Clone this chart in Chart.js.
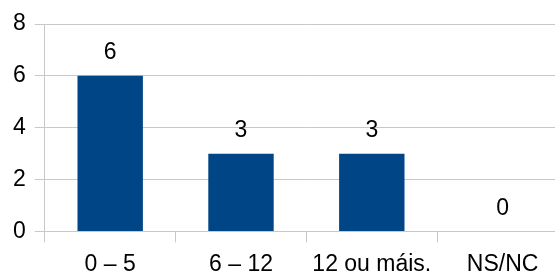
<!DOCTYPE html>
<html>
<head>
<meta charset="utf-8">
<script src="https://cdn.jsdelivr.net/npm/chart.js@4/dist/chart.umd.min.js"></script>
<style>
  html, body { margin: 0; padding: 0; background: #fff; overflow: hidden; }
  #wrap { position: relative; width: 568px; height: 278px; }
</style>
</head>
<body>
<div id="wrap"><canvas id="myChart"></canvas></div>
<script>
const categories = ['0 – 5', '6 – 12', '12 ou máis.', 'NS/NC'];
const values = [6, 3, 3, 0];
const yTicks = [0, 2, 4, 6, 8];

const fontFam = '"Liberation Sans", Arial, sans-serif';

// labels over the bars
const valueLabels = {
  id: 'valueLabels',
  afterDatasetsDraw(chart) {
    const ctx = chart.ctx;
    const meta = chart.getDatasetMeta(0);
    ctx.save();
    ctx.font = '23px ' + fontFam;
    ctx.fillStyle = '#000';
    ctx.textAlign = 'center';
    ctx.textBaseline = 'middle';
    meta.data.forEach((bar, i) => {
      ctx.fillText(String(values[i]), bar.x, bar.y - 23);
    });
    ctx.restore();
  }
};

const ctx = document.getElementById('myChart').getContext('2d');
const myChart = new Chart(ctx, {
  type: 'bar',
  data: {
    labels: categories,
    datasets: [{
      data: values,
      backgroundColor: '#004586',
      borderWidth: 0,
      barPercentage: 1,
      categoryPercentage: 0.5
    }]
  },
  options: {
    responsive: true,
    maintainAspectRatio: false,
    animation: false,
    layout: { padding: { left: 4, top: 24, right: 0, bottom: -8 } },
    plugins: {
      legend: { display: false },
      tooltip: { enabled: false }
    },
    scales: {
      x: {
        offset: true,
        grid: {
          offset: true,
          drawOnChartArea: false,
          color: '#c8c8c8',
          tickLength: 11
        },
        border: { color: '#c8c8c8' },
        ticks: {
          color: '#000',
          padding: 8,
          maxRotation: 0,
          font: { family: fontFam, size: 23 }
        }
      },
      y: {
        min: 0,
        max: 8,
        afterBuildTicks(scale) {
          scale.ticks = yTicks.map(v => ({ value: v }));
        },
        grid: { color: '#c8c8c8', tickLength: 10 },
        border: { color: '#c8c8c8' },
        ticks: {
          color: '#000',
          padding: 9,
          font: { family: fontFam, size: 23 }
        }
      }
    }
  },
  plugins: [valueLabels]
});
</script>
</body>
</html>
